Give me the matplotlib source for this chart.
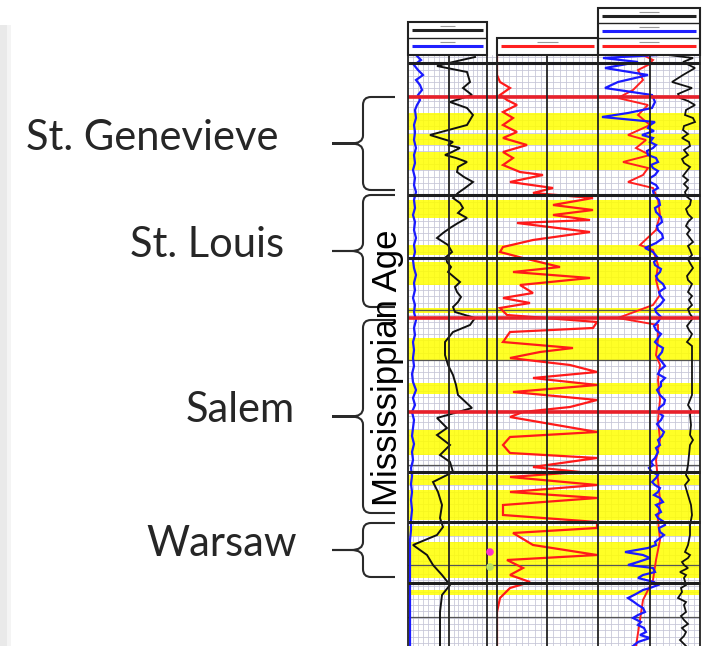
import numpy as np
import matplotlib.pyplot as plt
from matplotlib.path import Path
import matplotlib.patches as patches

W, H = 705, 646
TOP, BOT = 55, 646   # log window, 1 depth unit per pixel row

# ---- formations / age ----
formations = ['St. Genevieve', 'St. Louis', 'Salem', 'Warsaw']
form_top = [97, 195, 320, 523]
form_base = [190, 307, 513, 577]
age_label = 'Mississippian Age'

# yellow (pay) intervals
pay_top = [113, 134, 152, 200, 245, 262, 308, 338, 383, 430, 475, 490, 526, 542, 590]
pay_base = [130, 145, 170, 218, 255, 285, 313, 360, 394, 455, 485, 520, 536, 578, 595]

# depth marker lines
black_marks = [63, 195, 258, 472, 522, 583]
red_marks = [97, 318, 412]
minor_marks = [310, 360, 465, 565, 617]

# ---- track 1 (0-79): (depth, value) ----
t1_blue = [(55, 8), (60, 13), (65, 6), (70, 10), (75, 15), (80, 8), (85, 12), (90, 14), (95, 10),
           (100, 12), (105, 9), (110, 7), (118, 8), (125, 6), (132, 7), (140, 6), (148, 8),
           (155, 6), (163, 7), (170, 5), (178, 7), (185, 6), (192, 8), (200, 6), (208, 7),
           (215, 5), (222, 7), (230, 6), (238, 8), (245, 6), (252, 7), (260, 5), (268, 6),
           (275, 8), (283, 6), (290, 7), (298, 5), (305, 7), (312, 6), (320, 8), (328, 6),
           (335, 7), (342, 5), (350, 6), (358, 5), (366, 6), (374, 4), (382, 5), (390, 8),
           (398, 5), (405, 7), (412, 4), (420, 6), (428, 5), (436, 4), (444, 6), (452, 4),
           (460, 5), (468, 3), (476, 4), (484, 3), (492, 4), (500, 3), (510, 4), (520, 3),
           (530, 3), (540, 2), (550, 2), (560, 2), (575, 2), (590, 2), (605, 2), (620, 2),
           (635, 2), (646, 2)]
t1_black = [(57, 67), (62, 45), (66, 29), (72, 59), (82, 62), (88, 55), (95, 64), (102, 42),
            (108, 59), (115, 65), (125, 59), (135, 22), (139, 35), (142, 45), (145, 40),
            (148, 52), (152, 44), (155, 37), (158, 48), (162, 59), (167, 50), (172, 49),
            (177, 56), (182, 65), (188, 57), (193, 50), (198, 45), (203, 52), (208, 55),
            (213, 50), (218, 59), (223, 50), (228, 42), (233, 35), (238, 29), (245, 40),
            (252, 44), (257, 38), (262, 39), (267, 43), (272, 40), (277, 46), (282, 52),
            (287, 47), (292, 49), (297, 53), (302, 50), (307, 45), (312, 47), (318, 67),
            (325, 62), (332, 45), (342, 37), (355, 37), (365, 40), (375, 45), (385, 48),
            (395, 50), (408, 64), (418, 29), (428, 39), (435, 29), (445, 42), (455, 32),
            (462, 42), (472, 45), (482, 25), (492, 30), (505, 34), (518, 32), (527, 35),
            (535, 29), (545, 5), (555, 19), (565, 25), (575, 34), (585, 42), (595, 34),
            (612, 32), (646, 32)]

# ---- track 2 (0-101) ----
t2_red = [(55, 0), (75, 0), (82, 3), (88, 13), (95, 3), (100, 10), (105, 20), (112, 6), (118, 16),
          (125, 6), (132, 20), (138, 6), (145, 30), (152, 6), (158, 16), (165, 6), (172, 23),
          (175, 46), (182, 13), (188, 56), (193, 36), (198, 96), (205, 56), (210, 96), (215, 56),
          (220, 93), (223, 20), (232, 93), (240, 36), (247, 6), (252, 3), (258, 26), (267, 63),
          (272, 16), (278, 93), (285, 23), (293, 36), (298, 6), (303, 33), (308, 3), (315, 10),
          (322, 100), (328, 96), (332, 13), (342, 6), (348, 76), (352, 43), (358, 13), (365, 73),
          (372, 100), (378, 36), (385, 100), (392, 16), (400, 100), (407, 73), (412, 26),
          (417, 13), (432, 100), (437, 13), (445, 6), (453, 13), (458, 100), (467, 36),
          (472, 83), (477, 13), (485, 100), (492, 13), (498, 100), (505, 6), (515, 6),
          (522, 100), (528, 100), (533, 16), (545, 36), (555, 100), (560, 10), (568, 26),
          (575, 13), (582, 33), (588, 13), (598, 3), (612, 0), (646, 0)]
core_pts_d = [552, 567]
core_pts_c = ['#ff33cc', '#b8e060']

# ---- track 3 (0-102) ----
t3_blue = [(55, 60), (58, 5), (62, 40), (68, 7), (75, 50), (82, 20), (88, 7), (95, 54), (102, 57),
           (108, 54), (113, 30), (117, 4), (122, 57), (125, 52), (128, 50), (131, 56), (135, 44),
           (138, 55), (142, 52), (145, 58), (148, 55), (151, 49), (155, 50), (158, 58), (162, 60),
           (165, 53), (168, 55), (171, 60), (175, 57), (178, 52), (182, 52), (185, 58), (188, 60),
           (191, 55), (195, 56), (200, 61), (205, 62), (208, 57), (212, 58), (217, 63), (222, 64),
           (226, 59), (230, 60), (234, 64), (238, 65), (243, 58), (248, 47), (252, 55), (258, 60),
           (262, 56), (265, 57), (269, 63), (272, 62), (276, 58), (280, 60), (284, 65), (288, 67),
           (292, 61), (295, 62), (300, 66), (305, 62), (309, 57), (312, 58), (317, 63), (322, 60),
           (326, 56), (330, 58), (334, 63), (338, 60), (342, 57), (345, 60), (348, 65), (352, 64),
           (357, 60), (362, 64), (366, 67), (370, 62), (374, 60), (378, 67), (382, 63), (386, 63),
           (390, 59), (395, 62), (400, 67), (404, 66), (408, 61), (412, 60), (416, 65), (420, 63),
           (424, 59), (428, 62), (432, 66), (436, 64), (440, 60), (445, 62), (448, 58), (452, 60),
           (458, 57), (462, 53), (465, 55), (468, 51), (472, 54), (475, 60), (478, 58), (482, 54),
           (485, 57), (488, 62), (492, 60), (495, 56), (498, 62), (502, 65), (505, 58), (508, 61),
           (512, 63), (515, 58), (518, 60), (522, 66), (525, 67), (528, 61), (532, 62), (535, 66),
           (538, 62), (542, 57), (545, 58), (548, 50), (552, 27), (555, 45), (558, 52), (562, 40),
           (565, 30), (568, 55), (572, 57), (575, 45), (578, 40), (582, 56), (585, 60), (588, 52),
           (590, 45), (594, 38), (598, 30), (602, 36), (605, 40), (608, 45), (612, 47), (615, 40),
           (618, 35), (622, 43), (625, 40), (628, 46), (632, 48), (635, 42), (638, 52), (642, 40),
           (646, 35)]
t3_black = [(55, 70), (58, 95), (62, 85), (68, 97), (75, 85), (82, 74), (88, 94), (94, 80),
            (98, 82), (101, 90), (105, 97), (110, 88), (115, 87), (118, 95), (122, 97), (126, 86),
            (130, 85), (134, 90), (138, 84), (142, 91), (146, 92), (150, 86), (155, 90), (159, 84),
            (163, 86), (167, 92), (172, 88), (176, 85), (180, 90), (184, 86), (188, 90), (192, 87),
            (196, 88), (200, 93), (205, 92), (209, 88), (214, 90), (218, 94), (222, 90), (226, 88),
            (230, 92), (234, 89), (238, 92), (242, 95), (246, 90), (250, 92), (255, 94), (259, 90),
            (263, 92), (268, 95), (272, 92), (276, 89), (280, 90), (284, 94), (288, 92), (292, 90),
            (296, 94), (300, 91), (305, 94), (309, 90), (314, 92), (318, 95), (322, 92), (326, 89),
            (330, 91), (334, 94), (338, 92), (342, 89), (346, 94), (355, 94), (365, 94), (375, 94),
            (385, 94), (395, 94), (405, 90), (410, 93), (415, 92), (425, 93), (435, 92), (440, 95),
            (445, 92), (455, 91), (465, 90), (475, 88), (480, 91), (485, 87), (495, 90), (505, 93),
            (515, 94), (525, 92), (535, 92), (545, 90), (552, 87), (555, 92), (558, 90), (562, 84),
            (565, 86), (568, 90), (572, 82), (575, 88), (578, 86), (585, 88), (588, 83), (592, 84),
            (598, 80), (602, 88), (605, 86), (612, 88), (616, 83), (620, 86), (624, 90), (628, 84),
            (632, 88), (636, 86), (640, 82), (646, 88)]
t3_red = [(55, 45), (60, 55), (65, 50), (70, 40), (80, 45), (90, 35), (98, 20), (105, 50),
          (115, 40), (125, 52), (135, 30), (140, 48), (148, 38), (155, 52), (162, 25), (168, 50),
          (175, 45), (182, 30), (188, 55), (200, 60), (215, 62), (230, 58), (245, 42), (250, 55),
          (265, 60), (280, 58), (295, 62), (305, 55), (318, 20), (325, 60), (340, 60), (355, 58),
          (365, 62), (380, 60), (400, 62), (420, 60), (440, 62), (460, 58), (480, 60), (500, 62),
          (520, 60), (540, 62), (560, 58), (580, 55), (600, 45), (620, 42), (646, 38)]

# ---- layout helpers ----
fig = plt.figure(figsize=(W / 100, H / 100), dpi=100)


def px_axes(x0, x1, y0, y1, z):
    a = fig.add_axes([x0 / W, 1 - y1 / H, (x1 - x0) / W, (y1 - y0) / H], zorder=z)
    a.set_ylim(y1, y0)
    a.axis('off')
    return a


def curve(ax, pts, **kw):
    d, v = zip(*pts)
    ax.plot(v, d, solid_joinstyle='miter', **kw)


LX0, LX1 = 408, 700
track_x = [(408, 487), (497, 598), (598, 700)]
halves = [(408, 449), (449, 487), (497, 547), (547, 598), (598, 650), (650, 700)]
bounds = [408, 449, 487, 497, 547, 598, 650, 700]

# background panel: fine grid + yellow
bg = px_axes(LX0, LX1, TOP, BOT, 1)
bg.set_xlim(LX0, LX1)
for y in np.arange(TOP + 2, BOT, 6.3):
    bg.axhline(y, color='#c4c4d6', lw=0.55, zorder=1)
for a, b in halves:
    for x in np.linspace(a, b, 9)[1:-1]:
        bg.axvline(x, color='#c4c4d6', lw=0.55, zorder=1)
bg.axvline(492, color='#c4c4d6', lw=0.55, zorder=1)
for t, b in zip(pay_top, pay_base):
    bg.axhspan(t, b, color='#ffff00', alpha=0.85, lw=0, zorder=2)
for y in minor_marks:
    bg.axhline(y, color='#555555', lw=0.9, zorder=3)

# curves
ax1 = px_axes(*track_x[0], TOP, BOT, 2)
ax1.set_xlim(0, 79)
curve(ax1, t1_blue, color='#1a1aff', lw=1.6)
curve(ax1, t1_black, color='#111111', lw=1.4)

ax2 = px_axes(*track_x[1], TOP, BOT, 2)
ax2.set_xlim(0, 101)
curve(ax2, t2_red, color='#ff1a1a', lw=1.6)

ax3 = px_axes(*track_x[2], TOP, BOT, 2)
ax3.set_xlim(0, 102)
curve(ax3, t3_red, color='#ff2020', lw=1.4)
curve(ax3, t3_blue, color='#1a1aff', lw=1.6)
curve(ax3, t3_black, color='#111111', lw=1.3)

# overlay in pixel coords
ov = px_axes(0, W, 0, H, 3)
ov.set_xlim(0, W)
ov.add_patch(patches.Rectangle((0, 25), 7, H - 25, color='#e9e9e9', lw=0))
ov.add_patch(patches.Rectangle((7, 25), 4, H - 25, color='#f4f4f4', lw=0))
ov.hlines(black_marks, LX0, LX1, color='#1e1e1e', lw=2.2)
ov.hlines(red_marks, LX0, LX1, color='#e8202a', lw=2.6)
ov.vlines(bounds, TOP, BOT, color='#222222', lw=1.3)
ov.scatter([490, 490], core_pts_d, s=30, c=core_pts_c, zorder=5, lw=0)

# header boxes
headers = [((408, 487), (22, 55), [(30, '#222222'), (46, '#2020ff')], [38]),
           ((497, 598), (38, 55), [(46, '#ff2020')], []),
           ((598, 700), (8, 55), [(16, '#222222'), (31, '#2020ff'), (46, '#ff2020')], [23, 38])]
for (hx0, hx1), (hy0, hy1), bars, seps in headers:
    ov.add_patch(patches.Rectangle((hx0, hy0), hx1 - hx0, hy1 - hy0, fill=False,
                                   ec='#222222', lw=1.5))
    for s in seps:
        ov.hlines(s, hx0, hx1, color='#222222', lw=1.0)
    for y, c in bars:
        ov.hlines(y, hx0 + 4, hx1 - 4, color=c, lw=2.2)
        ov.hlines(y - 4, hx0 + (hx1 - hx0) * 0.4, hx0 + (hx1 - hx0) * 0.6, color='#999999', lw=0.8)

# braces and formation labels
SPINE, TIP, END, R = 363, 332, 395, 8
label_right = [278, 284, 295, 297]
for name, t, b, xr in zip(formations, form_top, form_base, label_right):
    m = (t + b) / 2
    verts = [(END, t), (SPINE + R, t), (SPINE, t), (SPINE, t + R), (SPINE, m - R), (SPINE, m),
             (SPINE - 12, m), (TIP, m), (SPINE - 12, m), (SPINE, m), (SPINE, m + R),
             (SPINE, b - R), (SPINE, b), (SPINE + R, b), (END, b)]
    codes = [Path.MOVETO, Path.LINETO, Path.CURVE3, Path.CURVE3, Path.LINETO, Path.CURVE3,
             Path.CURVE3, Path.LINETO, Path.LINETO, Path.CURVE3, Path.CURVE3,
             Path.LINETO, Path.CURVE3, Path.CURVE3, Path.LINETO]
    ov.add_patch(patches.PathPatch(Path(verts, codes), fill=False, ec='#2a2a2a', lw=1.5))
    ov.text(xr, m + 6, name, ha='right', va='baseline', fontsize=30, family='Lato',
            color='#262626')

ov.text(388, 368, age_label, rotation=90, ha='center', va='center', fontsize=25,
        family='Liberation Sans', color='black')

fig.savefig('out.png', dpi=100)
